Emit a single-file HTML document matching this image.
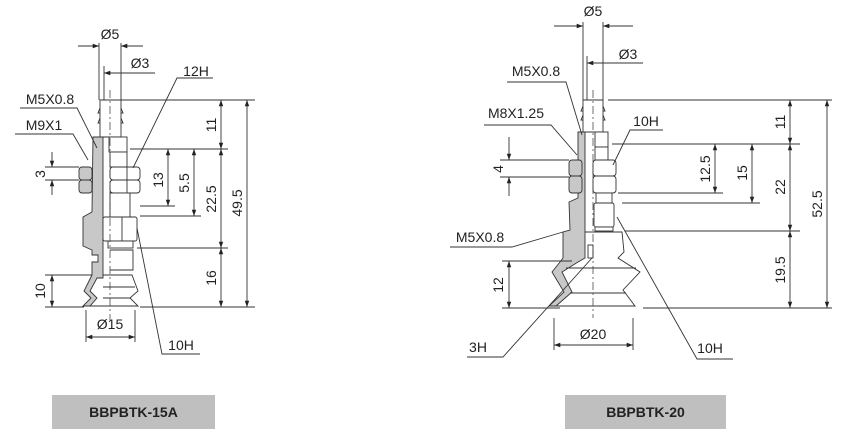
<!DOCTYPE html>
<html><head><meta charset="utf-8"><style>
html,body{margin:0;padding:0;background:#fff;}
svg{display:block;}
text{font-family:"Liberation Sans",sans-serif;fill:#222;}
</style></head><body>
<svg width="841" height="434" viewBox="0 0 841 434" xmlns="http://www.w3.org/2000/svg">
<defs>
<marker id="a" viewBox="0 0 10 10" refX="10" refY="5" markerWidth="7" markerHeight="7" orient="auto-start-reverse"><path d="M0,1.5 L10,5 L0,8.5 z" fill="#222"/></marker>
</defs>
<g stroke="#333" stroke-width="0.9" fill="none">
<!-- ===== LEFT DRAWING ===== -->
<path d="M93,137 L103,137 L103,278 L97,278 L90,291 L97,298 L90,306 L83,306 L91,298 L84,291 L92,275 L92,262 L98,262 L98,255 L92,255 L92,250 L83,246 L83,217 L92,212 Z" fill="#c8c8c8"/>
<path d="M100,100 L121,100 L121,137 L100,137 Z M100,108 L98,113 L100,113 M100,118 L98,123 L100,123" fill="#fff"/>
<path d="M121,108 L123,113 L121,113 M121,118 L123,123 L121,123"/>
<rect x="109" y="137" width="18" height="15" fill="#fff"/>
<rect x="79" y="167" width="13" height="13" rx="3" fill="#c8c8c8"/>
<rect x="79" y="180" width="13" height="13" rx="3" fill="#c8c8c8"/>
<rect x="110" y="152" width="17" height="15" fill="#fff"/>
<rect x="110" y="167" width="30" height="13" rx="3" fill="#fff"/>
<rect x="110" y="180" width="30" height="13" rx="3" fill="#fff"/>
<line x1="127" y1="167" x2="127" y2="193"/>
<rect x="110" y="193" width="20" height="24" fill="#fff"/>
<rect x="103" y="217" width="34" height="24" rx="2" fill="#fff"/>
<line x1="122" y1="217" x2="122" y2="241"/>
<rect x="108" y="241" width="25" height="7" fill="#fff"/>
<path d="M110,250 L133,250 L133,270 L110,270" fill="#fff"/>
<path d="M103,275 L132,275 L138,291 L130,298 L138,306 L90,306"/>
<line x1="103" y1="287" x2="135" y2="287"/>
<line x1="103" y1="298" x2="131" y2="298"/>
<line x1="110" y1="90" x2="110" y2="320" stroke-dasharray="8,3,2,3" stroke-width="0.7"/>
<line x1="99" y1="43" x2="99" y2="100"/><line x1="121" y1="43" x2="121" y2="100"/>
<line x1="78" y1="46" x2="99" y2="46" marker-end="url(#a)"/><line x1="143" y1="46" x2="121" y2="46" marker-end="url(#a)"/>
<line x1="104" y1="66" x2="104" y2="100"/>
<line x1="155" y1="73" x2="104" y2="73" marker-end="url(#a)"/>
<line x1="121" y1="100" x2="255" y2="100"/>
<line x1="130" y1="149" x2="228" y2="149"/>
<line x1="140" y1="206" x2="175" y2="206"/>
<line x1="140" y1="216" x2="201" y2="216"/>
<line x1="137" y1="248" x2="228" y2="248"/>
<line x1="140" y1="307" x2="255" y2="307"/>
<line x1="221" y1="100" x2="221" y2="149" marker-start="url(#a)" marker-end="url(#a)"/>
<line x1="221" y1="149" x2="221" y2="248" marker-start="url(#a)" marker-end="url(#a)"/>
<line x1="221" y1="248" x2="221" y2="307" marker-start="url(#a)" marker-end="url(#a)"/>
<line x1="247" y1="100" x2="247" y2="307" marker-start="url(#a)" marker-end="url(#a)"/>
<line x1="168" y1="149" x2="168" y2="206" marker-start="url(#a)" marker-end="url(#a)"/>
<line x1="194" y1="149" x2="194" y2="216" marker-start="url(#a)" marker-end="url(#a)"/>
<line x1="45" y1="167" x2="79" y2="167"/><line x1="45" y1="180" x2="79" y2="180"/>
<line x1="52" y1="152" x2="52" y2="167" marker-end="url(#a)"/><line x1="52" y1="195" x2="52" y2="180" marker-end="url(#a)"/>
<line x1="45" y1="275" x2="92" y2="275"/><line x1="45" y1="307" x2="84" y2="307"/>
<line x1="52" y1="275" x2="52" y2="307" marker-start="url(#a)" marker-end="url(#a)"/>
<line x1="86" y1="310" x2="86" y2="342"/><line x1="135" y1="310" x2="135" y2="342"/>
<line x1="86" y1="337" x2="135" y2="337" marker-start="url(#a)" marker-end="url(#a)"/>
<polyline points="20,108 77,108 97,148"/>
<polyline points="15,134 73,134 88,160"/>
<polyline points="213,78 177,78 133,168"/>
<polyline points="200,354 162,354 137,228"/>

<!-- ===== RIGHT DRAWING ===== -->
<path d="M578,132 L585,132 L585,258 L578,262 L562,272 L572,292 L556,306 L549,306 L564,292 L552,272 L560,262 L563,258 L563,232 L570,230 L569,202 L578,198 Z" fill="#c8c8c8"/>
<path d="M583,100 L603,100 L603,132 L583,132 Z M583,106 L581,111 L583,111 M583,115 L581,120 L583,120" fill="#fff"/>
<path d="M603,106 L605,111 L603,111 M603,115 L605,120 L603,120"/>
<rect x="595" y="132" width="13" height="15" fill="#fff"/>
<rect x="595" y="147" width="13" height="13" fill="#fff"/>
<rect x="569" y="160" width="13" height="16" rx="3" fill="#c8c8c8"/>
<rect x="569" y="176" width="13" height="17" rx="3" fill="#c8c8c8"/>
<rect x="593" y="160" width="23" height="16" rx="3" fill="#fff"/>
<rect x="593" y="176" width="23" height="17" rx="3" fill="#fff"/>
<rect x="596" y="193" width="16" height="10" fill="#fff"/>
<rect x="594" y="203" width="20" height="24" rx="2" fill="#fff"/>
<rect x="595" y="227" width="18" height="4" fill="#fff"/>
<path d="M585,232 L622,232 L624,252 L618,258 L640,272 L623,290 L635,306 L556,306"/>
<line x1="566" y1="268" x2="636" y2="268"/>
<line x1="570" y1="293" x2="626" y2="293"/>
<rect x="588" y="245" width="5" height="13" fill="#fff"/>
<line x1="593" y1="90" x2="593" y2="318" stroke-dasharray="8,3,2,3" stroke-width="0.7"/>
<line x1="583" y1="22" x2="583" y2="100"/><line x1="603" y1="22" x2="603" y2="100"/>
<line x1="554" y1="26" x2="583" y2="26" marker-end="url(#a)"/><line x1="633" y1="26" x2="603" y2="26" marker-end="url(#a)"/>
<line x1="587" y1="56" x2="587" y2="100"/>
<line x1="643" y1="63" x2="587" y2="63" marker-end="url(#a)"/>
<line x1="608" y1="100" x2="832" y2="100"/>
<line x1="612" y1="144" x2="800" y2="144"/>
<line x1="618" y1="193" x2="723" y2="193"/>
<line x1="622" y1="203" x2="760" y2="203"/>
<line x1="625" y1="231" x2="800" y2="231"/>
<line x1="643" y1="308" x2="832" y2="308"/>
<line x1="790" y1="100" x2="790" y2="144" marker-start="url(#a)" marker-end="url(#a)"/>
<line x1="790" y1="144" x2="790" y2="231" marker-start="url(#a)" marker-end="url(#a)"/>
<line x1="790" y1="231" x2="790" y2="308" marker-start="url(#a)" marker-end="url(#a)"/>
<line x1="827" y1="100" x2="827" y2="308" marker-start="url(#a)" marker-end="url(#a)"/>
<line x1="715" y1="144" x2="715" y2="193" marker-start="url(#a)" marker-end="url(#a)"/>
<line x1="752" y1="144" x2="752" y2="203" marker-start="url(#a)" marker-end="url(#a)"/>
<line x1="500" y1="160" x2="569" y2="160"/><line x1="500" y1="177" x2="569" y2="177"/>
<line x1="509" y1="137" x2="509" y2="160" marker-end="url(#a)"/><line x1="509" y1="196" x2="509" y2="177" marker-end="url(#a)"/>
<line x1="502" y1="261" x2="572" y2="261"/><line x1="502" y1="308" x2="560" y2="308"/>
<line x1="509" y1="261" x2="509" y2="308" marker-start="url(#a)" marker-end="url(#a)"/>
<line x1="554" y1="318" x2="554" y2="350"/><line x1="633" y1="318" x2="633" y2="350"/>
<line x1="554" y1="345" x2="633" y2="345" marker-start="url(#a)" marker-end="url(#a)"/>
<polyline points="507,82 566,82 582,135"/>
<polyline points="484,125 551,125 577,155"/>
<polyline points="663,130 630,130 613,165"/>
<polyline points="450,247 512,247 563,232"/>
<polyline points="467,357 503,357 592,258"/>
<polyline points="733,359 697,359 617,217"/>
</g>
<g font-size="14">
<text x="110" y="39" text-anchor="middle">Ø5</text>
<text x="140" y="68" text-anchor="middle">Ø3</text>
<text x="196" y="76" text-anchor="middle">12H</text>
<text x="50" y="104" text-anchor="middle">M5X0.8</text>
<text x="44" y="130" text-anchor="middle">M9X1</text>
<text x="110" y="329" text-anchor="middle">Ø15</text>
<text x="181" y="350" text-anchor="middle">10H</text>
<text transform="translate(45,174) rotate(-90)" text-anchor="middle">3</text>
<text transform="translate(45,291) rotate(-90)" text-anchor="middle">10</text>
<text transform="translate(163,180) rotate(-90)" text-anchor="middle">13</text>
<text transform="translate(189,183) rotate(-90)" text-anchor="middle">5.5</text>
<text transform="translate(216,199) rotate(-90)" text-anchor="middle">22.5</text>
<text transform="translate(216,125) rotate(-90)" text-anchor="middle">11</text>
<text transform="translate(216,278) rotate(-90)" text-anchor="middle">16</text>
<text transform="translate(242,203) rotate(-90)" text-anchor="middle">49.5</text>
<text x="593" y="16" text-anchor="middle">Ø5</text>
<text x="628" y="59" text-anchor="middle">Ø3</text>
<text x="536" y="76" text-anchor="middle">M5X0.8</text>
<text x="516" y="118" text-anchor="middle">M8X1.25</text>
<text x="646" y="126" text-anchor="middle">10H</text>
<text x="480" y="242" text-anchor="middle">M5X0.8</text>
<text x="478" y="352" text-anchor="middle">3H</text>
<text x="593" y="339" text-anchor="middle">Ø20</text>
<text x="710" y="353" text-anchor="middle">10H</text>
<text transform="translate(503,169) rotate(-90)" text-anchor="middle">4</text>
<text transform="translate(503,285) rotate(-90)" text-anchor="middle">12</text>
<text transform="translate(710,169) rotate(-90)" text-anchor="middle">12.5</text>
<text transform="translate(747,173) rotate(-90)" text-anchor="middle">15</text>
<text transform="translate(785,122) rotate(-90)" text-anchor="middle">11</text>
<text transform="translate(785,187) rotate(-90)" text-anchor="middle">22</text>
<text transform="translate(785,270) rotate(-90)" text-anchor="middle">19.5</text>
<text transform="translate(822,204) rotate(-90)" text-anchor="middle">52.5</text>
</g>
<rect x="52" y="395" width="163" height="34" fill="#bfbfbf"/>
<rect x="565" y="395" width="161" height="34" fill="#bfbfbf"/>
<text x="133.5" y="417" text-anchor="middle" font-size="14" font-weight="bold">BBPBTK-15A</text>
<text x="645.5" y="417" text-anchor="middle" font-size="14" font-weight="bold">BBPBTK-20</text>
</svg>
</body></html>
